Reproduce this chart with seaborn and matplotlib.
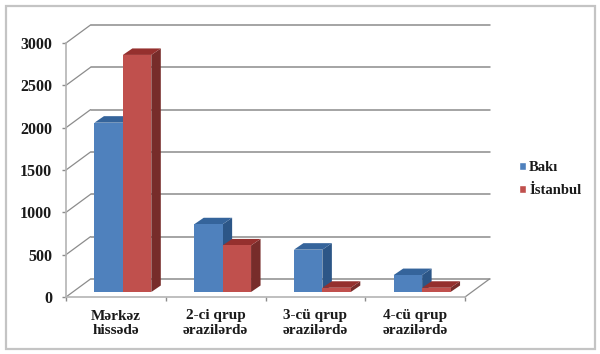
import matplotlib
matplotlib.use("Agg")
import matplotlib.pyplot as plt
import pandas as pd
import seaborn as sns
from matplotlib.patches import Polygon, Rectangle
from matplotlib.transforms import IdentityTransform, ScaledTranslation

categories = ["Mərkəz\nhissədə", "2-ci qrup\nərazilərdə", "3-cü qrup\nərazilərdə", "4-cü qrup\nərazilərdə"]
baki = [2000, 800, 500, 200]
istanbul = [2800, 550, 50, 50]
y_ticks = [0, 500, 1000, 1500, 2000, 2500, 3000]
series_names = ["Bakı", "İstanbul"]

front_colors = ["#4F81BD", "#C0504D"]
top_colors = ["#35649B", "#95302E"]
side_colors = ["#2C5687", "#772C2A"]
W, H = 600, 354

sns.set_theme(style="white")
plt.rcParams["font.family"] = ["Liberation Serif", "DejaVu Serif"]
plt.rcParams["font.weight"] = "bold"

df = pd.DataFrame({
    "group": categories * 2,
    "value": baki + istanbul,
    "city": [series_names[0]] * 4 + [series_names[1]] * 4,
})

fig = plt.figure(figsize=(W / 100, H / 100), dpi=100)
fig.patches.append(Rectangle((6 / W, 1 - 349 / H), 589 / W, 343 / H, transform=fig.transFigure,
                             facecolor="white", edgecolor="#c4c4c4", linewidth=1.6, zorder=-1))

# back wall and floor, 3d look is faked with a pixel offset
ax = fig.add_axes([66 / W, 1 - 297 / H, 399 / W, 254 / H])
ax.patch.set_alpha(0)
ax.set_xlim(0, 4)
ax.set_ylim(0, 3000)
back = ax.transData + ScaledTranslation(0.245, 0.18, fig.dpi_scale_trans)
fig.canvas.draw()
for y in y_ticks:
    ax.plot([0, 4], [y, y], color="#8c8c8c", lw=1.1, transform=back, clip_on=False)
    p0 = ax.transData.transform((0, y))
    p1 = back.transform((0, y))
    ax.plot([p0[0], p1[0]], [p0[1], p1[1]], color="#8c8c8c", lw=0.9, transform=IdentityTransform(), clip_on=False)
p0 = ax.transData.transform((4, 0))
p1 = back.transform((4, 0))
ax.plot([p0[0], p1[0]], [p0[1], p1[1]], color="#8c8c8c", lw=0.9, transform=IdentityTransform(), clip_on=False)

sns.despine(ax=ax)
for s in ["left", "bottom"]:
    ax.spines[s].set_color("#b4b4b4")
    ax.spines[s].set_linewidth(1.2)
ax.set_xlim(0, 4)
ax.set_ylim(0, 3000)
ax.set_yticks(y_ticks)
ax.set_xticks(range(5))
ax.set_xticklabels([])
ax.set_xticks([i + 0.5 for i in range(4)], labels=categories, minor=True)
ax.tick_params(axis="both", which="major", color="#8c8c8c", length=3, width=1, left=True, bottom=True)
ax.tick_params(axis="y", labelsize=11.5, pad=7, labelcolor="#1a1a1a")
ax.tick_params(axis="x", which="minor", length=0, labelsize=11, pad=9, labelcolor="#1a1a1a")
for label in ax.get_xticklabels(minor=True):
    label.set_linespacing(1.15)

# bars sit a bit inside the depth of the floor
bars_ax = fig.add_axes([73 / W, 1 - 292 / H, 399 / W, 254 / H])
bars_ax.patch.set_alpha(0)
sns.barplot(data=df, x="group", y="value", hue="city", palette=front_colors, saturation=1,
            width=0.57, gap=0, errorbar=None, ax=bars_ax)
bars_ax.set_ylim(0, 3000)
bars_ax.set_xlim(-0.5, 3.5)
fig.canvas.draw()

dx, dy = 9.5, 6.5
for s, container in enumerate(bars_ax.containers):
    for bar in container:
        bar.set_zorder(2 * s + 3)
        bar.set_linewidth(0)
        x0, y0 = bars_ax.transData.transform((bar.get_x(), 0))
        x1, y1 = bars_ax.transData.transform((bar.get_x() + bar.get_width(), bar.get_height()))
        side = [(x1, y0), (x1 + dx, y0 + dy), (x1 + dx, y1 + dy), (x1, y1)]
        top = [(x0, y1), (x0 + dx, y1 + dy), (x1 + dx, y1 + dy), (x1, y1)]
        bars_ax.add_patch(Polygon(side, closed=True, facecolor=side_colors[s], linewidth=0,
                                  transform=IdentityTransform(), clip_on=False, zorder=2 * s + 2))
        bars_ax.add_patch(Polygon(top, closed=True, facecolor=top_colors[s], linewidth=0,
                                  transform=IdentityTransform(), clip_on=False, zorder=2 * s + 2))

sns.move_legend(bars_ax, "upper left", bbox_to_anchor=(519 / W, 1 - 161 / H),
                bbox_transform=fig.transFigure, title=None, frameon=False, fontsize=10.5,
                handlelength=0.5, handleheight=0.5, handletextpad=0.2, labelspacing=0.68,
                borderpad=0, borderaxespad=0)
for t in bars_ax.legend_.get_texts():
    t.set_color("#1a1a1a")
bars_ax.set_axis_off()

fig.savefig("out.png", dpi=100, facecolor="white")
